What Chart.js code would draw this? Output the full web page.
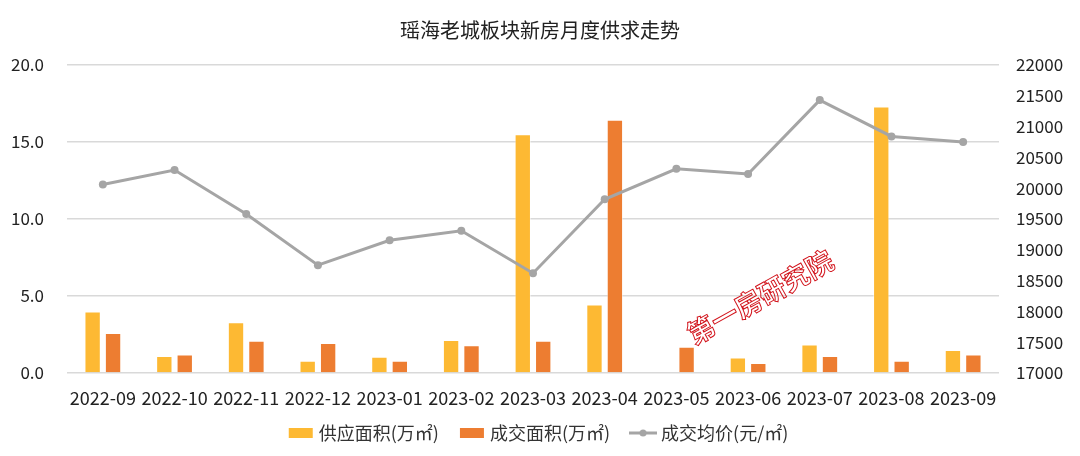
<!DOCTYPE html>
<html><head><meta charset="utf-8">
<script src="https://cdn.jsdelivr.net/npm/chart.js@4"></script>
<style>html,body{margin:0;padding:0;background:#fff}#wrap{width:1080px;height:456px}</style>
</head><body><div id="wrap"><canvas id="c" width="1080" height="456"></canvas></div>
<script>
const categories = ['2022-09','2022-10','2022-11','2022-12','2023-01','2023-02','2023-03','2023-04','2023-05','2023-06','2023-07','2023-08','2023-09'];
const supplyArea = [4.0, 1.1, 3.3, 0.8, 1.05, 2.15, 15.5, 4.45, 0, 1.0, 1.85, 17.3, 1.5];
const dealArea = [2.6, 1.2, 2.1, 1.95, 0.8, 1.8, 2.1, 16.45, 1.7, 0.65, 1.1, 0.8, 1.2];
const avgPrice = [20060, 20295, 19580, 18750, 19155, 19310, 18620, 19820, 20315, 20230, 21430, 20840, 20750];
const leftTicks = [0, 5, 10, 15, 20];
const rightTicks = [17000,17500,18000,18500,19000,19500,20000,20500,21000,21500,22000];
const FONT = '"Noto Sans CJK SC", "Noto Sans", sans-serif';

function icon(kind, color){
  const c = document.createElement('canvas'); c.width = 28; c.height = 12;
  const x = c.getContext('2d');
  if(kind==='rect'){ x.fillStyle = color; x.fillRect(2,1,24,10); }
  else { x.strokeStyle = color; x.lineWidth = 3; x.beginPath(); x.moveTo(0,6); x.lineTo(28,6); x.stroke();
         x.fillStyle = color; x.beginPath(); x.arc(14,6,3.5,0,Math.PI*2); x.fill(); }
  return c;
}

const watermark = {
  id:'wm',
  afterLayout(chart){ chart.scales.x.bottom = chart.scales.x.top + 40; },
  afterDraw(chart){
    const ctx = chart.ctx; ctx.save();
    ctx.translate(760, 297); ctx.rotate(-29*Math.PI/180);
    ctx.font = 'bold 27px ' + FONT; ctx.textAlign='center'; ctx.textBaseline='middle';
    ctx.strokeStyle = '#d2141c'; ctx.lineWidth = 1;
    ctx.strokeText('第一房研究院', 0, 0);
    ctx.restore();
  }
};

new Chart(document.getElementById('c'), {
  data: {
    labels: categories,
    datasets: [
      {type:'line', label:'成交均价(元/㎡)', data: avgPrice, yAxisID:'y1', borderColor:'#a5a5a5', backgroundColor:'#a5a5a5',
       borderWidth:3, pointRadius:4, pointHoverRadius:4, pointBackgroundColor:'#a5a5a5', pointBorderWidth:0, tension:0, order:0, pointStyle:'circle'},
      {type:'bar', label:'供应面积(万㎡)', data: supplyArea, yAxisID:'y', backgroundColor:'#fdb933', borderColor:'rgba(255,255,255,0.5)', borderWidth:1,
       barPercentage:0.8, categoryPercentage:0.57, order:1},
      {type:'bar', label:'成交面积(万㎡)', data: dealArea, yAxisID:'y', backgroundColor:'#ed7d31', borderColor:'rgba(255,255,255,0.5)', borderWidth:1,
       barPercentage:0.8, categoryPercentage:0.57, order:1}
    ]
  },
  options: {
    responsive:false, animation:false,
    layout:{padding:{left:0,right:0,top:0,bottom:4}},
    plugins:{
      title:{display:true, text:'瑶海老城板块新房月度供求走势', color:'#222', font:{family:FONT, size:20, weight:'normal'}, padding:{top:18,bottom:23}},
      legend:{position:'bottom', labels:{
        color:'#333', font:{family:FONT, size:18}, usePointStyle:true, padding:24,
        generateLabels(chart){
          return [
            {text:'供应面积(万㎡)', pointStyle:icon('rect','#fdb933'), fontColor:'#333', datasetIndex:1, lineWidth:0},
            {text:'成交面积(万㎡)', pointStyle:icon('rect','#ed7d31'), fontColor:'#333', datasetIndex:2, lineWidth:0},
            {text:'成交均价(元/㎡)', pointStyle:icon('line','#a5a5a5'), fontColor:'#333', datasetIndex:0, lineWidth:0}
          ];
        }
      }},
      tooltip:{enabled:false}
    },
    scales:{
      x:{grid:{display:false}, border:{display:false}, afterFit(s){ s.height = 27; },
         ticks:{color:'#222', font:{family:FONT, size:18}, maxRotation:0, autoSkip:false, padding:6}},
      y:{position:'left', min:0, max:20, afterBuildTicks(s){ s.ticks = leftTicks.map(v=>({value:v})); },
         afterFit(s){ s.width = 67; },
         grid:{color:'#d9d9d9', lineWidth:1.5, drawTicks:false}, border:{display:false},
         ticks:{color:'#222', font:{family:FONT, size:17}, padding:23, callback:v=>Number(v).toFixed(1)}},
      y1:{position:'right', min:17000, max:22000, afterBuildTicks(s){ s.ticks = rightTicks.map(v=>({value:v})); },
         afterFit(s){ s.width = 81; },
         grid:{display:false, drawTicks:false}, border:{display:false},
         ticks:{color:'#222', font:{family:FONT, size:17}, padding:17, callback:v=>String(v)}}
    }
  },
  plugins:[watermark]
});
</script></body></html>
